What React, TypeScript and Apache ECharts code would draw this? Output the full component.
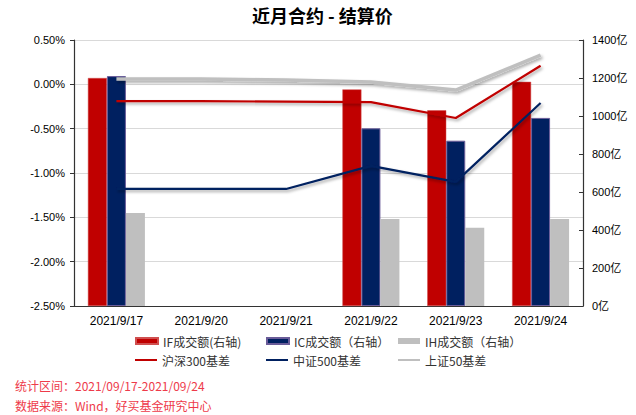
import React, { useEffect, useRef } from "react";
import * as echarts from "echarts";

const categories = ["2021/9/17", "2021/9/20", "2021/9/21", "2021/9/22", "2021/9/23", "2021/9/24"];
const ifVolume = [1200, null, null, 1140, 1030, 1180];
const icVolume = [1210, null, null, 935, 870, 990];
const ihVolume = [490, null, null, 458, 412, 458];
const hs300Basis = [-0.19, -0.19, -0.195, -0.2, -0.38, 0.21];
const zz500Basis = [-1.18, -1.18, -1.18, -0.92, -1.1, -0.21];
const sz50Basis = [0.06, 0.06, 0.05, 0.025, -0.065, 0.33];

const names = {
  ifv: "IF成交额(右轴)",
  icv: "IC成交额（右轴）",
  ihv: "IH成交额（右轴）",
  hs: "沪深300基差",
  zz: "中证500基差",
  sz: "上证50基差",
};

const RED = "#C00000";
const NAVY = "#002060";
const GRAY = "#BFBFBF";
const CJK = "'Noto Sans CJK SC', 'Liberation Sans', sans-serif";
const LAT = "'Liberation Sans', Arial, 'Noto Sans CJK SC', sans-serif";

export default function App() {
  const ref = useRef<HTMLDivElement>(null);
  useEffect(() => {
    document.body.style.margin = "0";
    const chart = echarts.init(ref.current!, null, { renderer: "svg" });
    const legendText = { fontSize: 12, color: "#333", fontFamily: CJK };
    const mkLegend = (name: string, left: number, top: number, h: number) => ({
      data: [name],
      left,
      top,
      padding: 0,
      icon: "rect",
      itemWidth: 22,
      itemHeight: h,
      itemGap: 4,
      textStyle: legendText,
      selectedMode: false,
    });
    const lineShadow = {
      shadowColor: "rgba(0,0,0,0.35)",
      shadowBlur: 3,
      shadowOffsetX: 1.5,
      shadowOffsetY: 2,
    };
    chart.setOption({
      animation: false,
      backgroundColor: "#fff",
      title: {
        text: "近月合约 - 结算价",
        left: 252,
        top: 6,
        padding: 0,
        textStyle: { fontSize: 18, fontWeight: "bold", color: "#000", fontFamily: CJK },
      },
      grid: { left: 74, right: 53, top: 40, bottom: 109, containLabel: false },
      legend: [
        mkLegend(names.ifv, 135, 335, 6),
        mkLegend(names.icv, 266, 335, 6),
        mkLegend(names.ihv, 398, 335, 6),
        mkLegend(names.hs, 135, 354, 2),
        mkLegend(names.zz, 266, 354, 2),
        mkLegend(names.sz, 398, 354, 2),
      ],
      xAxis: {
        type: "category",
        data: categories,
        boundaryGap: true,
        axisLine: { show: true, onZero: false, lineStyle: { color: "#333", width: 1.2 } },
        axisTick: { show: false },
        axisLabel: { fontSize: 12, color: "#000", fontFamily: LAT, margin: 9 },
      },
      yAxis: [
        {
          type: "value",
          min: -2.5,
          max: 0.5,
          interval: 0.5,
          axisLine: { show: true, lineStyle: { color: "#333", width: 1.2 } },
          axisTick: { show: true, inside: false, length: 4, lineStyle: { color: "#333" } },
          splitLine: { show: true, lineStyle: { color: "#D9D9D9", width: 1 } },
          axisLabel: {
            fontSize: 11,
            color: "#000",
            fontFamily: LAT,
            margin: 9,
            formatter: (v: number) => v.toFixed(2) + "%",
          },
        },
        {
          type: "value",
          min: 0,
          max: 1400,
          interval: 200,
          position: "right",
          axisLine: { show: true, lineStyle: { color: "#333", width: 1.2 } },
          axisTick: { show: true, inside: true, length: 4, lineStyle: { color: "#333" } },
          splitLine: { show: false },
          axisLabel: {
            fontSize: 11,
            color: "#000",
            fontFamily: LAT,
            margin: 9,
            formatter: (v: number) => v + "亿",
          },
        },
      ],
      series: [
        {
          name: names.ifv,
          type: "bar",
          yAxisIndex: 1,
          data: ifVolume,
          barWidth: 19,
          barGap: "0%",
          itemStyle: { color: RED, borderColor: "#D05050", borderWidth: 0.5 },
          z: 2,
        },
        {
          name: names.icv,
          type: "bar",
          yAxisIndex: 1,
          data: icVolume,
          barWidth: 19,
          barGap: "0%",
          itemStyle: { color: NAVY, borderColor: "#6A5C99", borderWidth: 1 },
          z: 2,
        },
        {
          name: names.ihv,
          type: "bar",
          yAxisIndex: 1,
          data: ihVolume,
          barWidth: 19,
          barGap: "0%",
          itemStyle: { color: GRAY },
          z: 2,
        },
        {
          name: names.hs,
          type: "line",
          yAxisIndex: 0,
          data: hs300Basis,
          symbol: "none",
          itemStyle: { color: RED },
          lineStyle: { color: RED, width: 2.2, ...lineShadow },
          z: 5,
        },
        {
          name: names.zz,
          type: "line",
          yAxisIndex: 0,
          data: zz500Basis,
          symbol: "none",
          itemStyle: { color: NAVY },
          lineStyle: { color: NAVY, width: 2.2, ...lineShadow },
          z: 5,
        },
        {
          name: names.sz,
          type: "line",
          yAxisIndex: 0,
          data: sz50Basis,
          symbol: "none",
          itemStyle: { color: GRAY },
          lineStyle: { color: GRAY, width: 3.5, ...lineShadow },
          z: 4,
        },
      ],
      graphic: [
        {
          type: "text",
          left: 15,
          top: 379,
          style: {
            text: "统计区间：2021/09/17-2021/09/24",
            fill: "#EE3A4A",
            fontSize: 12,
            fontFamily: CJK,
          },
        },
        {
          type: "text",
          left: 15,
          top: 399,
          style: {
            text: "数据来源：Wind，好买基金研究中心",
            fill: "#EE3A4A",
            fontSize: 12,
            fontFamily: CJK,
          },
        },
      ],
    });
    return () => chart.dispose();
  }, []);
  return <div ref={ref} style={{ width: 636, height: 415 }} />;
}
